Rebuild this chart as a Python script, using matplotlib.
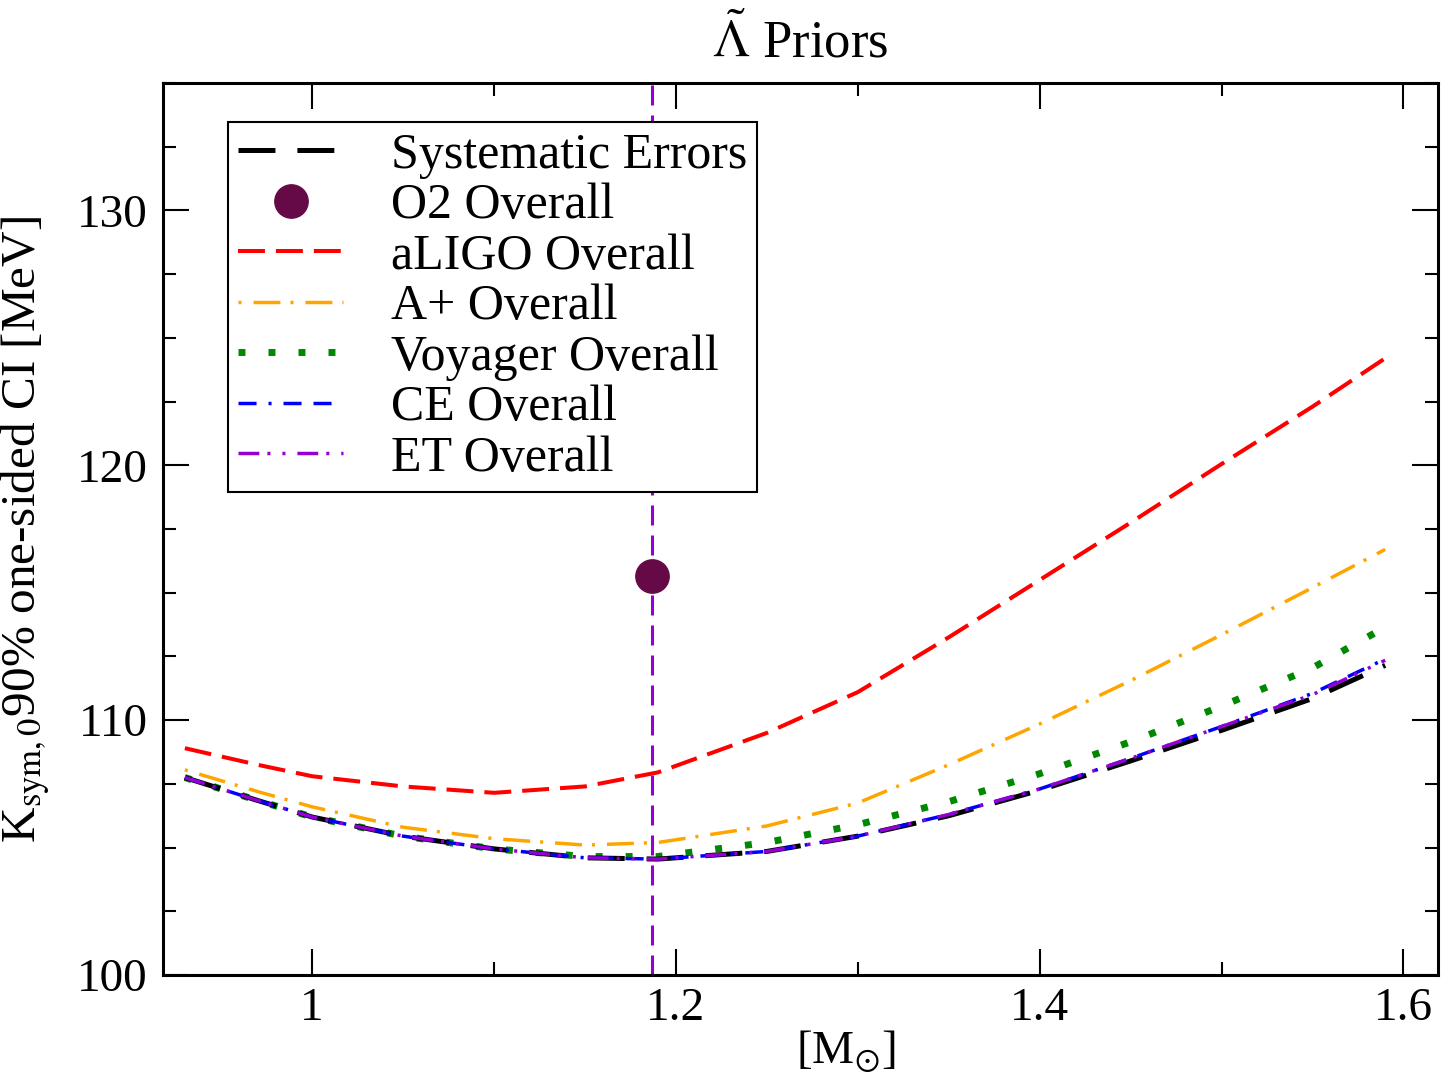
"""
Ksym,0 90% one-sided CI vs chirp mass, Lambda-tilde priors.
"""

import matplotlib
matplotlib.use("Agg")
import matplotlib.pyplot as plt
from matplotlib.ticker import MultipleLocator, FuncFormatter

# ============================================================
# Data
# ============================================================

mass = [0.93, 0.97, 1.00, 1.05, 1.10, 1.15, 1.19, 1.25, 1.30, 1.35, 1.40, 1.45, 1.50, 1.55, 1.59]

systematic = [107.75, 106.85, 106.2, 105.45, 104.95, 104.6, 104.55, 104.85, 105.45, 106.25,
              107.25, 108.4, 109.6, 110.85, 112.15]
aligo = [108.9, 108.25, 107.8, 107.4, 107.15, 107.4, 107.95, 109.5, 111.1, 113.25,
         115.5, 117.75, 120.05, 122.3, 124.2]
aplus = [108.05, 107.2, 106.6, 105.8, 105.35, 105.1, 105.2, 105.85, 106.75, 108.25,
         109.85, 111.55, 113.35, 115.2, 116.7]
voyager = [107.75, 106.85, 106.2, 105.45, 104.95, 104.65, 104.65, 105.2, 105.9, 106.8,
           107.9, 109.15, 110.55, 112.05, 113.65]
ce = [107.75, 106.85, 106.2, 105.45, 104.95, 104.6, 104.55, 104.85, 105.45, 106.3,
      107.3, 108.5, 109.75, 111.05, 112.4]
et = [107.75, 106.85, 106.2, 105.45, 104.95, 104.6, 104.55, 104.85, 105.45, 106.3,
      107.3, 108.5, 109.75, 111.0, 112.35]

o2_mass = 1.187
o2_value = 115.65

# ============================================================
# Style
# ============================================================

plt.rcParams['font.family'] = ['Liberation Serif', 'DejaVu Serif']
plt.rcParams['mathtext.fontset'] = 'stix'
plt.rcParams['lines.scale_dashes'] = False

fs = 34

fig = plt.figure(figsize=(14.44, 10.92), dpi=100)
ax = fig.add_axes([0.1129, 0.1071, 0.8829, 0.8169])

# --- curves ---
l_red, = ax.plot(mass, aligo, color='#ff0000', lw=2.9, ls=(0, (19.4, 7.9)))
l_orange, = ax.plot(mass, aplus, color='#ffa500', lw=2.5, ls=(0, (2.2, 8.6, 19.4, 7.2)))
l_green, = ax.plot(mass, voyager, color='#008800', lw=5, ls=(0, (5, 16.6)),
                   dash_capstyle='butt')
l_black, = ax.plot(mass, systematic, color='black', lw=3.6, ls=(0, (26.6, 15.8)))
l_blue, = ax.plot(mass, ce, color='#0000ff', lw=2.5, ls=(0, (13, 8.6, 2.2, 8.6, 13, 8.6)))
l_purple, = ax.plot(mass, et, color='#9400d3', lw=2.5,
                    ls=(0, (15, 5.8, 2.2, 8.6, 2.2, 8.6)))

# --- O2 point and its vertical marker ---
ax.axvline(o2_mass, color='#9400d3', lw=2.2, ls=(0, (14.4, 7.2)))
l_o2, = ax.plot([o2_mass], [o2_value], 'o', color='#650a46', ms=24, ls='none')

# --- axes ---
ax.set_xlim(0.918, 1.619)
ax.set_ylim(100, 135)
ax.xaxis.set_major_locator(MultipleLocator(0.2))
ax.xaxis.set_minor_locator(MultipleLocator(0.1))
ax.yaxis.set_major_locator(MultipleLocator(10))
ax.yaxis.set_minor_locator(MultipleLocator(2.5))
ax.xaxis.set_major_formatter(FuncFormatter(lambda v, p: f'{v:g}'))

ax.tick_params(which='both', direction='in', top=True, right=True, labelsize=fs, width=1.5)
ax.tick_params(which='major', length=19)
ax.tick_params(which='minor', length=9.5)
ax.tick_params(axis='y', pad=11)
ax.tick_params(axis='x', pad=9)
for s in ax.spines.values():
    s.set_linewidth(2.2)

ax.set_title(r'$\tilde{\Lambda}$ Priors', fontsize=38, pad=18)
ax.set_xlabel(r'[M$_{\odot}$]', fontsize=fs)
ax.xaxis.set_label_coords(0.536, -0.06)
ax.set_ylabel(r'K$_{\mathrm{sym,0}}$90% one-sided CI [MeV]', fontsize=35.5)
ax.yaxis.set_label_coords(-0.087, 0.5)

# --- legend ---
handles = [l_black, l_o2, l_red, l_orange, l_green, l_blue, l_purple]
labels = ['Systematic Errors', 'O2 Overall', 'aLIGO Overall', 'A+ Overall',
          'Voyager Overall', 'CE Overall', 'ET Overall']
leg = ax.legend(handles, labels, loc='upper left', bbox_to_anchor=(0.051, 0.956),
                borderaxespad=0, fontsize=36, handlelength=2.1, handletextpad=0.95,
                labelspacing=0.08, borderpad=0.2, frameon=True, fancybox=False,
                framealpha=1, numpoints=1)
leg.get_frame().set_edgecolor('black')
leg.get_frame().set_linewidth(1.5)

fig.savefig('out.png', dpi=100)
